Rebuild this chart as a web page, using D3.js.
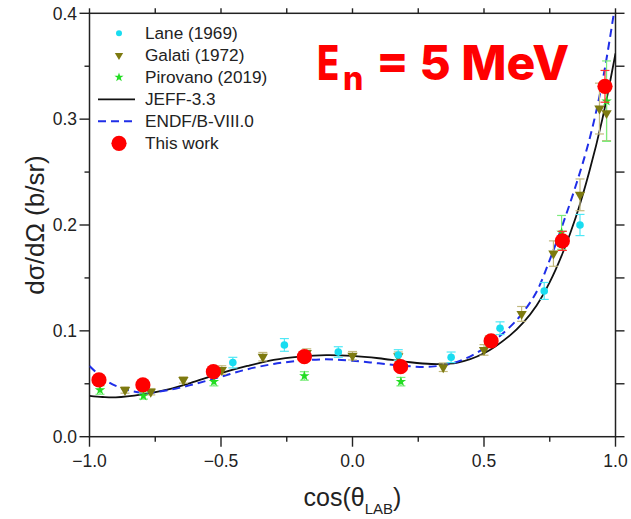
<!DOCTYPE html>
<html>
<head>
<meta charset="utf-8">
<script src="https://cdn.jsdelivr.net/npm/d3@7"></script>
<style>
  html, body { margin: 0; padding: 0; background: #fff; }
  svg { display: block; }
  text { font-family: "Liberation Sans", Arial, sans-serif; fill: #222; }
</style>
</head>
<body>
<svg id="chart" width="631" height="519"></svg>
<script>
// ---- evaluated curves (cos theta grid, b/sr) ----
const cosGrid = [-1, -0.95, -0.9, -0.8, -0.7, -0.6, -0.5, -0.4, -0.3, -0.2, -0.1, 0, 0.1, 0.2, 0.3, 0.4, 0.5, 0.6, 0.65, 0.7, 0.75, 0.8, 0.85, 0.9, 0.95, 1.0];
const jeff = [0.0385, 0.0375, 0.0372, 0.0400, 0.0448, 0.0520, 0.0600, 0.0668, 0.0725, 0.0756, 0.0770, 0.0763, 0.0741, 0.0709, 0.0687, 0.0700, 0.0788, 0.0960, 0.1080, 0.1240, 0.1460, 0.1740, 0.2080, 0.2500, 0.3000, 0.3620];
const endf = [0.0668, 0.0555, 0.0480, 0.0416, 0.0441, 0.0498, 0.0567, 0.0637, 0.0687, 0.0718, 0.0731, 0.0718, 0.0693, 0.0668, 0.0662, 0.0709, 0.0835, 0.1040, 0.1180, 0.1370, 0.1670, 0.2010, 0.2380, 0.2800, 0.3350, 0.4100];

// ---- measurements ----
const laneCos = [-0.455, -0.259, -0.054, 0.174, 0.375, 0.561, 0.729, 0.865];
const laneVal = [0.0700, 0.0867, 0.0800, 0.0772, 0.0750, 0.1025, 0.1377, 0.2000];
const laneErr = [0.005, 0.006, 0.005, 0.005, 0.005, 0.006, 0.008, 0.010];

const galatiCos = [-0.865, -0.767, -0.643, -0.497, -0.341, -0.174, 0.0, 0.174, 0.345, 0.5, 0.643, 0.764, 0.865, 0.939, 0.966];
const galatiVal = [0.0441, 0.0425, 0.0536, 0.0630, 0.0756, 0.0790, 0.0765, 0.0760, 0.0656, 0.0820, 0.1160, 0.1730, 0.2285, 0.3100, 0.3057];
const galatiErr = [0.003, 0.003, 0.003, 0.004, 0.004, 0.004, 0.004, 0.004, 0.004, 0.005, 0.007, 0.012, 0.015, 0.024, 0.026];

const pirovanoCos = [-0.96, -0.795, -0.527, -0.183, 0.184, 0.52, 0.795, 0.966];
const pirovanoVal = [0.0441, 0.0385, 0.0520, 0.0574, 0.0520, 0.0900, 0.1930, 0.3170];
const pirovanoErr = [0.004, 0.003, 0.004, 0.004, 0.004, 0.005, 0.016, 0.038];

const workCos = [-0.964, -0.797, -0.529, -0.183, 0.183, 0.527, 0.798, 0.960];
const workVal = [0.0536, 0.0489, 0.0614, 0.0756, 0.0662, 0.0905, 0.1850, 0.3310];
const workErr = [0.003, 0.003, 0.003, 0.004, 0.003, 0.004, 0.009, 0.015];

// ---- axis ticks ----
const xMajor = [-1.0, -0.5, 0.0, 0.5, 1.0];
const xMinor = [-0.75, -0.25, 0.25, 0.75];
const yMajor = [0.0, 0.1, 0.2, 0.3, 0.4];
const yMinor = [0.05, 0.15, 0.25, 0.35];

const legendLabels = ["Lane (1969)", "Galati (1972)", "Pirovano (2019)", "JEFF-3.3", "ENDF/B-VIII.0", "This work"];

// ---- layout ----
const pLeft = 89.5, pRight = 615.5, pTop = 13.3, pBottom = 436.7;
const svg = d3.select("#chart");
const x = d3.scaleLinear().domain([-1, 1]).range([pLeft, pRight]);
const y = d3.scaleLinear().domain([0, 0.4]).range([pBottom, pTop]);

const colors = {
  lane: "#19dcf0", laneErr: "#4fe8f6",
  galati: "#7d7a10", galatiErr: "#c2b97e",
  pirovano: "#22dd22", pirovanoErr: "#7cec7c",
  jeff: "#111", endf: "#1f2ee8", work: "#ff0000"
};

svg.append("clipPath").attr("id", "plot-clip")
  .append("rect").attr("x", pLeft).attr("y", pTop).attr("width", pRight - pLeft).attr("height", pBottom - pTop);

// frame ticks
const axisColor = "#222";
const tickG = svg.append("g").attr("stroke", axisColor).attr("stroke-width", 1.4);
xMajor.forEach(v => {
  tickG.append("line").attr("x1", x(v)).attr("x2", x(v)).attr("y1", pBottom).attr("y2", pBottom + 10);
  tickG.append("line").attr("x1", x(v)).attr("x2", x(v)).attr("y1", pTop).attr("y2", pTop - 5);
});
xMinor.forEach(v => {
  tickG.append("line").attr("x1", x(v)).attr("x2", x(v)).attr("y1", pBottom).attr("y2", pBottom + 5);
  tickG.append("line").attr("x1", x(v)).attr("x2", x(v)).attr("y1", pTop).attr("y2", pTop - 5);
});
yMajor.forEach(v => {
  tickG.append("line").attr("x1", pLeft).attr("x2", pLeft - 10).attr("y1", y(v)).attr("y2", y(v));
  tickG.append("line").attr("x1", pRight).attr("x2", pRight + 9).attr("y1", y(v)).attr("y2", y(v));
});
yMinor.forEach(v => {
  tickG.append("line").attr("x1", pLeft).attr("x2", pLeft - 5).attr("y1", y(v)).attr("y2", y(v));
  tickG.append("line").attr("x1", pRight).attr("x2", pRight + 9).attr("y1", y(v)).attr("y2", y(v));
});
svg.append("rect").attr("x", pLeft).attr("y", pTop).attr("width", pRight - pLeft).attr("height", pBottom - pTop)
  .attr("fill", "none").attr("stroke", axisColor).attr("stroke-width", 1.5);

// tick labels
const fmt = d3.format(".1f");
svg.append("g").selectAll("text").data(xMajor).join("text")
  .attr("x", d => x(d)).attr("y", pBottom + 30.5)
  .attr("text-anchor", "middle").attr("font-size", 17.5)
  .text(d => fmt(d));
svg.append("g").selectAll("text").data(yMajor).join("text")
  .attr("x", pLeft - 12.5).attr("y", d => y(d) + 6.2)
  .attr("text-anchor", "end").attr("font-size", 17.5)
  .text(d => fmt(d));

// axis titles
svg.append("text")
  .attr("transform", `translate(44,${(pTop + pBottom) / 2}) rotate(-90)`)
  .attr("text-anchor", "middle").attr("font-size", 26)
  .text("dσ/dΩ (b/sr)");
const xt = svg.append("text").attr("x", (pLeft + pRight) / 2).attr("y", 506)
  .attr("text-anchor", "middle").attr("font-size", 25);
xt.append("tspan").text("cos(θ");
xt.append("tspan").attr("font-size", 15).attr("dy", 8).text("LAB");
xt.append("tspan").attr("dy", -8).text(")");

// curves
const plot = svg.append("g").attr("clip-path", "url(#plot-clip)");
const curveLine = vals => d3.line()
  .x((d, i) => x(cosGrid[i])).y(d => y(d))
  .curve(d3.curveCatmullRom.alpha(0.5))(vals);
plot.append("path").attr("d", curveLine(jeff))
  .attr("fill", "none").attr("stroke", colors.jeff).attr("stroke-width", 1.8);
plot.append("path").attr("d", curveLine(endf))
  .attr("fill", "none").attr("stroke", colors.endf).attr("stroke-width", 2)
  .attr("stroke-dasharray", "8,5");

// error bars
function errorBars(g, cs, vs, es, color, cap) {
  cs.forEach((c, i) => {
    const cx = x(c), y0 = y(vs[i] - es[i]), y1 = y(vs[i] + es[i]);
    g.append("line").attr("x1", cx).attr("x2", cx).attr("y1", y0).attr("y2", y1)
      .attr("stroke", color).attr("stroke-width", 1.2);
    [y0, y1].forEach(yy => g.append("line")
      .attr("x1", cx - cap).attr("x2", cx + cap).attr("y1", yy).attr("y2", yy)
      .attr("stroke", color).attr("stroke-width", 1.2));
  });
}
const marks = svg.append("g");
errorBars(marks, galatiCos, galatiVal, galatiErr, colors.galatiErr, 4.5);
errorBars(marks, laneCos, laneVal, laneErr, colors.laneErr, 4.5);
errorBars(marks, pirovanoCos, pirovanoVal, pirovanoErr, colors.pirovanoErr, 4.5);

const triDown = d3.symbol().type(d3.symbolTriangle).size(46);
const star = d3.symbol().type(d3.symbolStar).size(34);

marks.selectAll(".galati").data(galatiCos).join("path")
  .attr("d", triDown).attr("fill", colors.galati)
  .attr("transform", (d, i) => `translate(${x(d)},${y(galatiVal[i])}) rotate(180)`);
marks.selectAll(".lane").data(laneCos).join("circle")
  .attr("cx", d => x(d)).attr("cy", (d, i) => y(laneVal[i])).attr("r", 3.8)
  .attr("fill", colors.lane);
marks.selectAll(".piro").data(pirovanoCos).join("path")
  .attr("d", star).attr("fill", colors.pirovano)
  .attr("transform", (d, i) => `translate(${x(d)},${y(pirovanoVal[i])})`);

errorBars(marks, workCos, workVal, workErr, "#ff3030", 4.5);
marks.selectAll(".work").data(workCos).join("circle")
  .attr("cx", d => x(d)).attr("cy", (d, i) => y(workVal[i])).attr("r", 7.6)
  .attr("fill", colors.work);

// legend
const lg = svg.append("g");
const ly = i => 33.3 + i * 22;
const symX = 119, txtX = 145;
lg.append("circle").attr("cx", symX).attr("cy", ly(0)).attr("r", 3).attr("fill", colors.lane);
lg.append("path").attr("d", d3.symbol().type(d3.symbolTriangle).size(30))
  .attr("transform", `translate(${symX},${ly(1)}) rotate(180)`).attr("fill", colors.galati);
lg.append("path").attr("d", d3.symbol().type(d3.symbolStar).size(26))
  .attr("transform", `translate(${symX},${ly(2)})`).attr("fill", colors.pirovano);
lg.append("line").attr("x1", 98).attr("x2", 135).attr("y1", ly(3)).attr("y2", ly(3))
  .attr("stroke", colors.jeff).attr("stroke-width", 1.8);
lg.append("line").attr("x1", 98).attr("x2", 135).attr("y1", ly(4)).attr("y2", ly(4))
  .attr("stroke", colors.endf).attr("stroke-width", 2).attr("stroke-dasharray", "8,5");
lg.append("circle").attr("cx", symX).attr("cy", ly(5)).attr("r", 7.6).attr("fill", colors.work);
lg.selectAll("text.lab").data(legendLabels).join("text")
  .attr("x", txtX).attr("y", (d, i) => ly(i) + 5.8)
  .attr("font-size", 17.2).text(d => d);

// energy annotation: narrow bold E, subscript n, then the value
const annStyle = sel => sel.style("fill", "#ff0000")
  .style("font-family", "Inter, 'Open Sans', sans-serif").style("font-weight", 800);
annStyle(svg.append("text").attr("transform", "translate(317,80) scale(0.76,1)")
  .attr("font-size", 48).text("E"));
annStyle(svg.append("text").attr("x", 343).attr("y", 90).attr("font-size", 32).text("n"));
annStyle(svg.append("text").attr("x", 376).attr("y", 80).attr("font-size", 48).text("= 5 MeV"));
</script>
</body>
</html>
